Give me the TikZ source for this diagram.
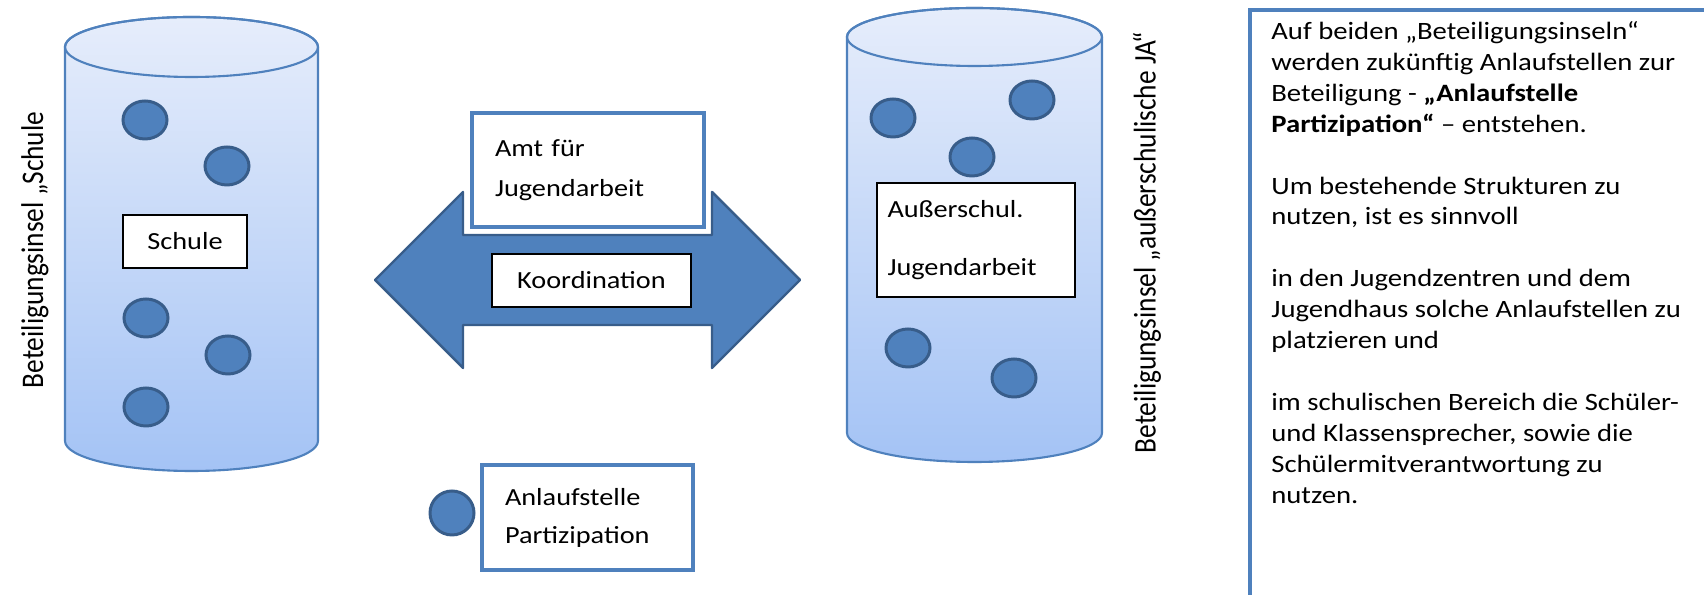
\documentclass[tikz,border=0pt]{standalone}
\usepackage{fontspec}
\setmainfont{Carlito}[FakeStretch=1.15]
\newfontfamily\inselschrift{Carlito}[FakeStretch=0.87]
\usetikzlibrary{shapes.geometric}

\begin{document}
\begin{tikzpicture}[
    punkt/.style={ellipse, draw=punktrand, line width=1.7pt, fill=officeblau,
        minimum width=0.88cm, minimum height=0.76cm, inner sep=0pt},
    kasten/.style={rectangle, draw=black, line width=0.6pt, fill=white,
        font=\fontsize{14}{17}\selectfont, inner sep=0pt},
    blaukasten/.style={rectangle, draw=officeblau, line width=2.8pt, fill=white,
        align=left, inner xsep=0.46cm, inner ysep=0pt},
    insel/.style={font=\inselschrift\fontsize{17.9}{20}\selectfont, rotate=90}
]

% Farben
\definecolor{officeblau}{RGB}{79,129,189}
\definecolor{punktrand}{RGB}{56,93,138}
\definecolor{zylhell}{RGB}{230,237,251}
\definecolor{zyldunkel}{RGB}{164,195,245}

\useasboundingbox (0,0) rectangle (34.08,11.9);

% Zylinder: #1 = Mitte x, #2 = y oben, #3 = y unten, #4 = x-Radius, #5 = y-Radius
\newcommand{\zylinder}[5]{%
    \shade[top color=zylhell, bottom color=zyldunkel, draw=officeblau, line width=1.2pt]
        ({#1-#4},#2) -- ({#1-#4},#3)
        arc[start angle=180, end angle=360, x radius=#4, y radius=#5]
        -- ({#1+#4},#2)
        arc[start angle=0, end angle=180, x radius=#4, y radius=#5] -- cycle;
    \draw[officeblau, line width=1.2pt] (#1,#2) ellipse[x radius=#4, y radius=#5];
}

% ============ Linke Insel: Schule ============
\zylinder{3.83}{10.96}{3.08}{2.53}{0.6}
\node[punkt] (s1) at (2.90, 9.50) {};
\node[punkt] (s2) at (4.54, 8.58) {};
\node[punkt] (s3) at (2.92, 5.54) {};
\node[punkt] (s4) at (4.56, 4.80) {};
\node[punkt] (s5) at (2.92, 3.76) {};
\node[kasten, minimum width=2.48cm, minimum height=1.06cm] (schule) at (3.70, 7.07) {Schule};
\node[insel] (inselschule) at (0.70, 6.90) {Beteiligungsinsel „Schule};

% ============ Mitte: Koordination ============
\draw[fill=officeblau, draw=punktrand, line width=1.4pt, line join=round]
    (7.50,6.30) -- (9.26,8.06) -- (9.26,7.20) -- (14.24,7.20) -- (14.24,8.06)
    -- (16.00,6.30) -- (14.24,4.54) -- (14.24,5.40) -- (9.26,5.40) -- (9.26,4.54) -- cycle;
\node[blaukasten, minimum height=2.28cm, text width=3.72cm,
    font=\fontsize{14}{23}\selectfont] (amt) at (11.76, 8.50) {Amt für\\Jugendarbeit};
\node[kasten, minimum width=3.98cm, minimum height=1.06cm] (koordination) at (11.83, 6.29) {Koordination};

% Legende
\node[punkt, minimum height=0.88cm] (legende) at (9.04, 1.64) {};
\node[blaukasten, minimum height=2.10cm, text width=3.30cm,
    font=\fontsize{14}{21.6}\selectfont] (anlaufstelle) at (11.75, 1.55) {Anlaufstelle\\Partizipation};

% ============ Rechte Insel: ausserschulische JA ============
\zylinder{19.49}{11.16}{3.24}{2.55}{0.58}
\node[punkt] (j1) at (17.86, 9.54) {};
\node[punkt] (j2) at (20.64, 9.90) {};
\node[punkt] (j3) at (19.44, 8.76) {};
\node[punkt] (j4) at (18.16, 4.94) {};
\node[punkt] (j5) at (20.28, 4.34) {};
\node[kasten, minimum width=3.96cm, minimum height=2.28cm, text width=3.54cm,
    inner xsep=0.21cm, align=left, font=\fontsize{14}{33}\selectfont] (jugendarbeit)
    at (19.52, 7.10) {Außerschul.\\Jugendarbeit};
\node[insel] (inselja) at (22.94, 7.05) {Beteiligungsinsel „außerschulische JA“};

% ============ Textkasten rechts ============
\draw[officeblau, line width=2.3pt] (25.00,-1) rectangle (35,11.70);
\node[anchor=north west, inner sep=0pt, align=left,
    font=\fontsize{14.2}{17.6}\selectfont] (erklaerung) at (25.42, 11.48) {%
    Auf beiden „Beteiligungsinseln“\\
    werden zukünftig Anlaufstellen zur\\
    Beteiligung - \textbf{„Anlaufstelle}\\
    \textbf{Partizipation“} – entstehen.\\[0.62cm]
    Um bestehende Strukturen zu\\
    nutzen, ist es sinnvoll\\[0.62cm]
    in den Jugendzentren und dem\\
    Jugendhaus solche Anlaufstellen zu\\
    platzieren und\\[0.62cm]
    im schulischen Bereich die Schüler-\\
    und Klassensprecher, sowie die\\
    Schülermitverantwortung zu\\
    nutzen.};

\end{tikzpicture}
\end{document}
